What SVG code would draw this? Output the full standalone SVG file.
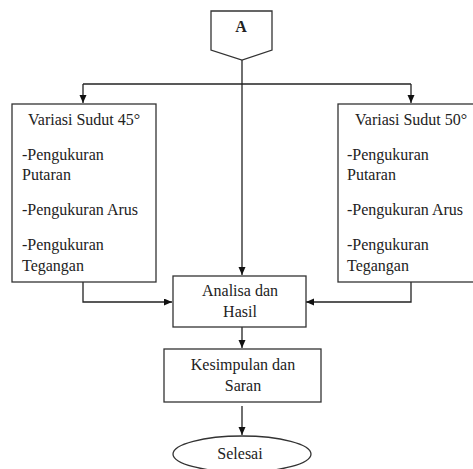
<svg xmlns="http://www.w3.org/2000/svg" width="473" height="469" viewBox="0 0 473 469">
<defs>
<marker id="ah" markerUnits="userSpaceOnUse" markerWidth="8" markerHeight="8" refX="8" refY="3.5" orient="auto">
<path d="M0,0 L8,3.5 L0,7 Z" fill="#111"/>
</marker>
<style>
.box{fill:#fff;stroke:#333;stroke-width:1.3}
.ln{fill:none;stroke:#222;stroke-width:1.3}
text{font-family:'Liberation Serif','DejaVu Serif',serif;font-size:16px;fill:#222}
.c{text-anchor:middle}
</style>
</defs>
<rect width="473" height="469" fill="#fff"/>
<g id="connectors">
<path class="ln" d="M242,60 V275" marker-end="url(#ah)"/>
<path class="ln" d="M83,84 H411"/>
<path class="ln" d="M83,84 V103" marker-end="url(#ah)"/>
<path class="ln" d="M411,84 V103" marker-end="url(#ah)"/>
<path class="ln" d="M83,282 V302 H172" marker-end="url(#ah)"/>
<path class="ln" d="M411,282 V302 H306" marker-end="url(#ah)"/>
<path class="ln" d="M242,327 V348" marker-end="url(#ah)"/>
<path class="ln" d="M242,406 V435" marker-end="url(#ah)"/>
</g>
<g id="nodeA">
<path class="box" d="M211,11 H272 V50 L242,60 L211,50 Z"/>
<text class="c" x="241" y="32" font-weight="bold">A</text>
</g>
<g id="node45">
<rect class="box" x="12" y="104" width="144" height="178"/>
<text x="28" y="125">Variasi Sudut 45°</text>
<text x="22" y="160">-Pengukuran</text>
<text x="22" y="180">Putaran</text>
<text x="22" y="215">-Pengukuran Arus</text>
<text x="22" y="250">-Pengukuran</text>
<text x="22" y="271">Tegangan</text>
</g>
<g id="node50">
<rect class="box" x="338" y="104" width="145" height="178"/>
<text x="355" y="125">Variasi Sudut 50°</text>
<text x="347" y="160">-Pengukuran</text>
<text x="347" y="180">Putaran</text>
<text x="347" y="215">-Pengukuran Arus</text>
<text x="347" y="250">-Pengukuran</text>
<text x="347" y="271">Tegangan</text>
</g>
<g id="nodeAnalisa">
<rect class="box" x="173" y="276" width="133" height="51"/>
<text class="c" x="240" y="296">Analisa dan</text>
<text class="c" x="240" y="317">Hasil</text>
</g>
<g id="nodeKesimpulan">
<rect class="box" x="164" y="349" width="157" height="53"/>
<text class="c" x="243" y="370">Kesimpulan dan</text>
<text class="c" x="243" y="391">Saran</text>
</g>
<g id="nodeSelesai">
<ellipse class="box" cx="242" cy="454" rx="69" ry="18"/>
<text class="c" x="240" y="459">Selesai</text>
</g>
</svg>
